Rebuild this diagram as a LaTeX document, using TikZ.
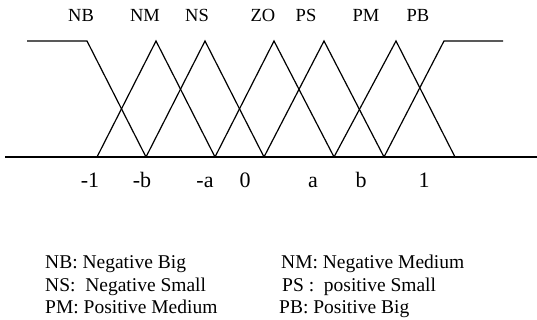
\documentclass[tikz,border=0pt]{standalone}
\usepackage{fontspec}
\setmainfont{Liberation Serif}
\begin{document}
\begin{tikzpicture}[x=1pt,y=1pt,
  curve/.style={line width=1.2pt,line join=miter},
  toplab/.style={inner sep=0pt,anchor=base,font=\fontsize{18.5}{22}\selectfont},
  axlab/.style={inner sep=0pt,anchor=base,font=\fontsize{22}{26}\selectfont},
  leg/.style={inner sep=0pt,anchor=base west,font=\fontsize{19.5}{23}\selectfont}]
\useasboundingbox (0,0) rectangle (537,320);
% axis
\draw[curve] (5,163) -- (537,163);
% membership functions
\draw[curve] (27,279) -- (87,279) -- (146,163);
\draw[curve] (97,163) -- (156,279) -- (215,163);
\draw[curve] (146,163) -- (205,279) -- (264,163);
\draw[curve] (215,163) -- (274,279) -- (334,163);
\draw[curve] (264,163) -- (324,279) -- (384,163);
\draw[curve] (334,163) -- (396,279) -- (455,163);
\draw[curve] (384,163) -- (444,279) -- (503,279);
% top labels
\node[toplab] (lNB) at (81,298) {NB};
\node[toplab] (lNM) at (145,298) {NM};
\node[toplab] (lNS) at (197,298) {NS};
\node[toplab] (lZO) at (263,298) {ZO};
\node[toplab] (lPS) at (306,298) {PS};
\node[toplab] (lPM) at (366,298) {PM};
\node[toplab] (lPB) at (418,298) {PB};
% axis labels
\node[axlab] (t1) at (90,132) {-1};
\node[axlab] (t2) at (142,132) {-b};
\node[axlab] (t3) at (205,132) {-a};
\node[axlab] (t4) at (245,132) {0};
\node[axlab] (t5) at (313,132) {a};
\node[axlab] (t6) at (361,132) {b};
\node[axlab] (t7) at (424,132) {1};
% legend
\node[leg] (g1) at (45,51) {NB: Negative Big};
\node[leg] (g2) at (45,28) {NS:\ \ Negative Small};
\node[leg] (g3) at (45,6) {PM: Positive Medium};
\node[leg] (g4) at (281,51) {NM: Negative Medium};
\node[leg] (g5) at (282,28) {PS :\ \ positive Small};
\node[leg] (g6) at (279,6) {PB: Positive Big};
\end{tikzpicture}
\end{document}
